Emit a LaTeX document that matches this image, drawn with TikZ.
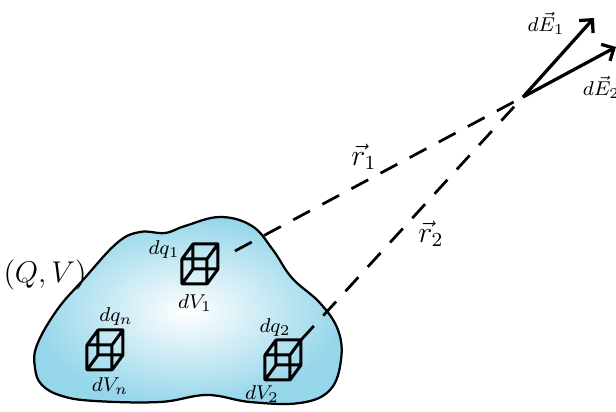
\documentclass[tikz,border=0pt]{standalone}
\usepackage{amsmath}
\usetikzlibrary{arrows.meta}
\definecolor{blobblue}{RGB}{150,214,234}
\newcommand{\volcube}[1]{%
  \begin{scope}[shift={(#1)}]
    \draw[cube] (0,0) rectangle (25,-25) (11,-15) rectangle (36,-40)
      (0,0) -- (11,-15) (25,0) -- (36,-15)
      (0,-25) -- (11,-40) (25,-25) -- (36,-40);
  \end{scope}}

\begin{document}
\begin{tikzpicture}[x=0.4pt,y=-0.4pt,
  blob/.style={draw,line width=.9pt,inner color=white,outer color=blobblue},
  cube/.style={line width=1.2pt,line join=round},
  ray/.style={line width=1.1pt,dash pattern=on 7.6pt off 5.6pt},
  field/.style={line width=1.3pt,-{Straight Barb[length=3.8pt,width=7.5pt]}},
  big/.style={font=\large},
  small/.style={font=\footnotesize}]
\useasboundingbox (0,0) rectangle (616,412);

\draw[blob] plot[smooth cycle,tension=0.65] coordinates {
  (57,310) (83,280) (117,243) (140,232) (165,233) (185,226) (220,217)
  (252,226) (273,250) (292,278) (320,303) (338,330) (341,360) (330,390)
  (300,403) (250,402) (207,395) (160,402) (95,401) (62,396) (42,385)
  (35,368) (37,345)};

\coordinate (c1) at (182,284);
\coordinate (c2) at (265,380);
\coordinate (cn) at (87,370);
\volcube{c1}
\volcube{c2}
\volcube{cn}

\node[big] (QV) at (45,275) {$(Q,V)$};
\node[small] (dq1) at (164,250) {$dq_1$};
\node[small] (dV1) at (195,303) {$dV_1$};
\node[small] (dqn) at (116,317) {$dq_n$};
\node[small] (dVn) at (110,386) {$dV_n$};
\node[small] (dq2) at (275,328) {$dq_2$};
\node[small] (dV2) at (262,394) {$dV_2$};

\coordinate (s1) at (235,251);
\coordinate (s2) at (301,340);
\coordinate (P) at (523,97);
\coordinate (e1) at (594,18);
\coordinate (e2) at (616,47);

\draw[ray] (s1) -- (P);
\draw[ray] (s2) -- (P);
\draw[field] (P) -- (e1);
\draw[field] (P) -- (e2);

\node[big] (r1) at (364,157) {$\vec{r}_1$};
\node[big] (r2) at (431,234) {$\vec{r}_2$};
\node[small] (E1) at (546,23) {$d\vec{E}_1$};
\node[small,anchor=west] (E2) at (574,87) {$d\vec{E}_2$};
\end{tikzpicture}
\end{document}
